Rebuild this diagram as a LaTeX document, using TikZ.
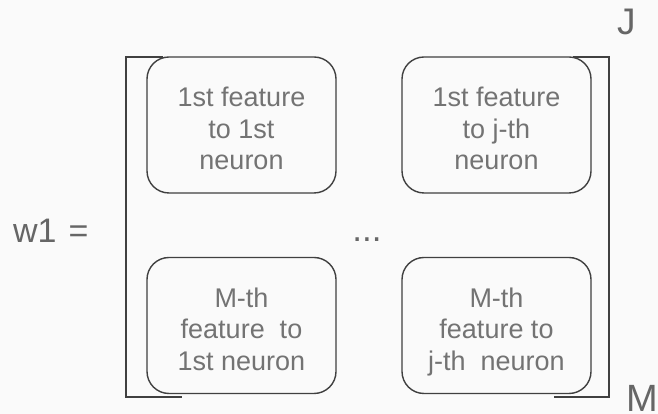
\documentclass[tikz,border=0pt]{standalone}
\usepackage{fontspec}
\setmainfont{Liberation Sans}
\begin{document}
\begin{tikzpicture}[x=1pt,y=1pt,
  cell/.style={draw=black!75, line width=1.4pt, rounded corners=22pt,
    minimum width=189pt, minimum height=136pt, inner sep=0pt},
  celltext/.style={align=center, text=black!55, inner sep=0pt,
    font=\fontsize{27}{31.5}\selectfont, yshift=-7pt},
  bracket/.style={draw=black!75, line width=1.8pt},
  lbl/.style={text=black!60, inner sep=0pt}]
  \fill[black!2] (0,0) rectangle (658,414);
  \useasboundingbox (0,0) rectangle (658,414);

  % matrix entries
  \node[cell] (a11) at (241.5,289) {};
  \node[cell] (a1j) at (496.5,289) {};
  \node[cell] (am1) at (241.5,88.5) {};
  \node[cell] (amj) at (496.5,88.5) {};
  \node[celltext] (t11) at (a11.center) {\strut 1st feature\\to 1st\\neuron\strut};
  \node[celltext] (t1j) at (a1j.center) {\strut 1st feature\\to j-th\\neuron\strut};
  \node[celltext] (tm1) at (am1.center) {\strut M-th\\feature\ \ to\\1st neuron\strut};
  \node[celltext] (tmj) at (amj.center) {\strut M-th\\feature to\\j-th\ \ neuron\strut};

  % brackets
  \draw[bracket] (163,357) -- (126,357) -- (126,17) -- (182,17);
  \draw[bracket] (573,357) -- (609,357) -- (609,17) -- (554,17);

  % labels
  \node[lbl, font=\fontsize{34}{34}\selectfont, anchor=base west] (w) at (13,171) {w1\hspace{12pt}=};
  \node[lbl, font=\fontsize{35}{35}\selectfont, anchor=base] (dots) at (367,172) {...};
  \node[lbl, font=\fontsize{37}{37}\selectfont, anchor=base west] (J) at (617,379) {J};
  \node[lbl, font=\fontsize{38}{38}\selectfont, anchor=base west] (M) at (626,2) {M};
\end{tikzpicture}
\end{document}
